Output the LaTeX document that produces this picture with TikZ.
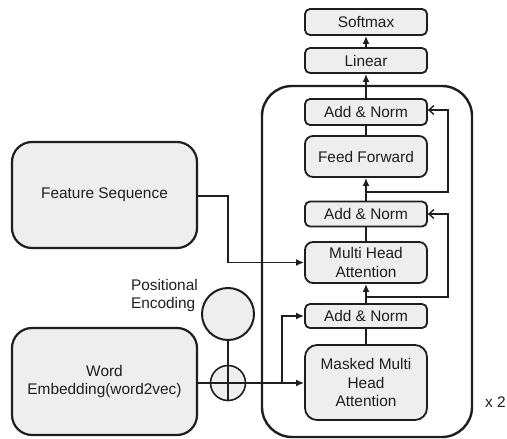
\documentclass[tikz,border=0pt]{standalone}
\usepackage{fontspec}
\setmainfont{Liberation Sans}
\usetikzlibrary{arrows.meta}
\definecolor{boxfill}{HTML}{EEEEEE}
\definecolor{ink}{HTML}{1E1E1E}
\begin{document}
\begin{tikzpicture}[x=1pt,y=-1pt,
  every node/.style={font=\fontsize{15.4}{18.5}\selectfont, text=ink},
  blk/.style={draw=ink, fill=boxfill, line width=1.8pt, rounded corners=5pt,
    minimum width=122pt, inner sep=0pt, align=center},
  bigblk/.style={draw=ink, fill=boxfill, line width=2.2pt, rounded corners=20pt,
    minimum width=185pt, inner sep=0pt, align=center},
  conn/.style={draw=ink, line width=1.6pt},
  fa/.style={conn, -{Latex[length=8pt,width=7pt]}},
  oa/.style={conn, -{Straight Barb[length=5pt,width=9pt,line width=1.4pt]}}]
\useasboundingbox (0,0) rectangle (507,439);
% container
\draw[ink, line width=2.4pt, rounded corners=30pt] (262,86) rectangle (472,437);
% decoder blocks
\node[blk, minimum height=26pt] (softmax) at (366,22) {Softmax};
\node[blk, minimum height=25pt] (linear) at (366,60.5) {Linear};
\node[blk, minimum height=26pt] (an1) at (366,112) {Add \& Norm};
\node[blk, minimum height=41pt, rounded corners=8pt] (ff) at (366,156.5) {Feed Forward};
\node[blk, minimum height=25pt] (an2) at (366,214) {Add \& Norm};
\node[blk, minimum height=41pt, rounded corners=8pt] (mha) at (366,262.5) {Multi Head\\Attention};
\node[blk, minimum height=24pt] (an3) at (366,316) {Add \& Norm};
\node[blk, minimum height=75pt, rounded corners=12pt] (mmha) at (366,382.5) {Masked Multi\\Head\\Attention};
% inputs
\node[bigblk, minimum height=106pt] (feat) at (104.5,195) {Feature Sequence};
\node[bigblk, minimum height=107pt] (word) at (104.5,381.5) {Word\\Embedding(word2vec)};
\node[circle, draw=ink, fill=boxfill, line width=2pt, minimum size=52pt, inner sep=0pt] (pe) at (228,314) {};
\node[circle, draw=ink, fill=boxfill, line width=1.6pt, minimum size=35pt, inner sep=0pt] (plus) at (228,383) {};
\node[align=left, anchor=east, inner sep=0pt] (pelabel) at (198,295.5) {Positional\\Encoding};
\node[anchor=west, inner sep=0pt] (x2) at (485,402) {x 2};
% connectors
\draw[conn] (pe.south) -- (plus.south);
\coordinate (br) at (282,383);
\draw[fa] (word.east |- plus) -- (mmha.west |- plus);
\draw[fa] (br) -- (282,316) -- (an3.west);
\draw[conn] (mmha.north) -- (an3.south);
\draw[fa] (an3.north) -- (mha.south);
\coordinate (r1) at (366,297);
\draw[oa] (r1) -- (448,297) -- (448,214) -- (an2.east);
\draw[conn] (mha.north) -- (an2.south);
\draw[fa] (an2.north) -- (ff.south);
\coordinate (r2) at (366,192);
\draw[oa] (r2) -- (448,192) -- (448,110) -- (an1.east |- 0,110);
\draw[conn] (ff.north) -- (an1.south);
\draw[fa] (an1.north) -- (linear.south);
\draw[fa] (linear.north) -- (softmax.south);
\draw[fa] (feat.east |- 0,196) -- (228,196) -- (228,262.5) -- (mha.west);
\end{tikzpicture}
\end{document}
